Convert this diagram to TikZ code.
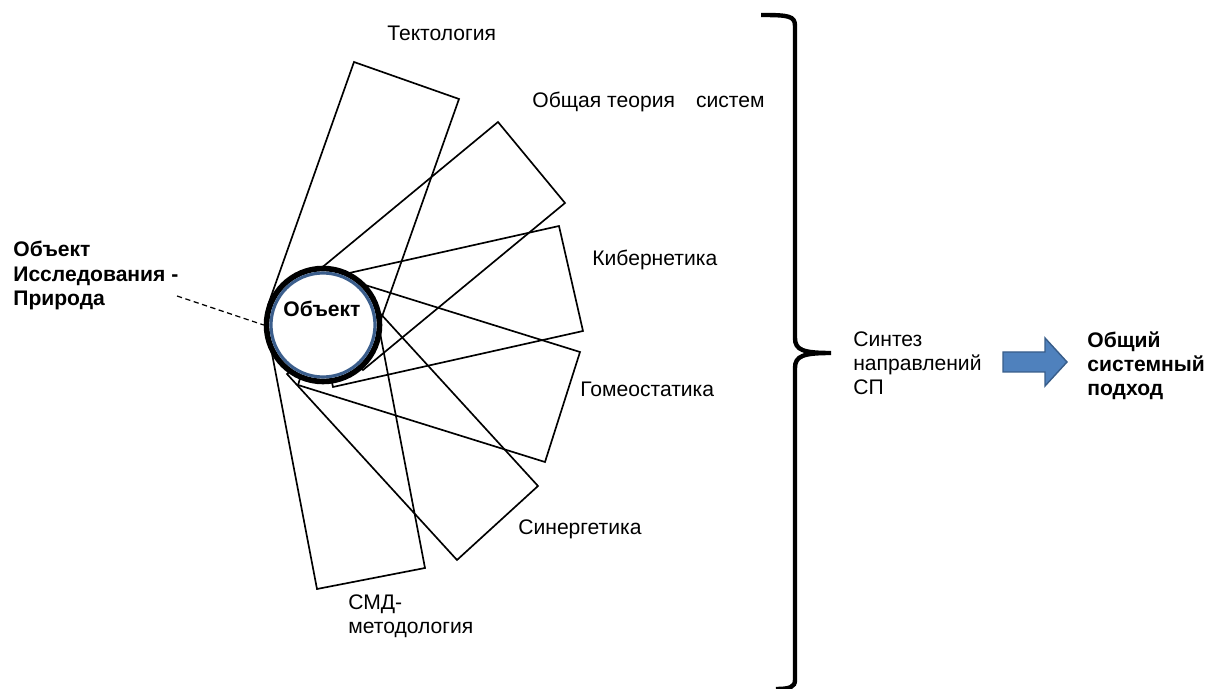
\documentclass[tikz,border=0pt]{standalone}
\usepackage{fontspec}
\setmainfont{Liberation Sans}
\usetikzlibrary{calc}
\definecolor{ringblue}{RGB}{59,94,140}
\definecolor{arrowblue}{RGB}{79,129,189}
\definecolor{arrowedge}{RGB}{56,93,138}

\begin{document}
\begin{tikzpicture}[x=0.02cm, y=-0.02cm,
    lbl/.style={inner sep=0pt, font=\fontsize{12}{13.8}\selectfont},
    blbl/.style={inner sep=0pt, font=\fontsize{12}{13.8}\selectfont\bfseries},
    blade/.style={line width=0.95pt, line join=miter},
    bracket/.style={line width=2.5pt}]
  \useasboundingbox (0,0) rectangle (1208,689);

  % the six directions, drawn as turned boxes
  \draw[blade] (354,62) -- (459,99) -- (373,342) -- (268,305) -- cycle;
  \draw[blade] (498,122) -- (565,203) -- (363,370) -- (296,289) -- cycle;
  \draw[blade] (559,226) -- (583,331) -- (333,387) -- (309,282) -- cycle;
  \draw[blade] (580,352) -- (545,462) -- (298,385) -- (333,275) -- cycle;
  \draw[blade] (538,486) -- (457,560) -- (287,374) -- (368,300) -- cycle;
  \draw[blade] (425,568) -- (317,589) -- (269,338) -- (377,317) -- cycle;

  % object
  \node[circle, draw, fill=white, line width=3.2pt, inner sep=0pt, minimum size=2.26cm] (obj) at (323,325) {};
  \draw[ringblue, line width=1.8pt] (obj.center) circle[radius=52];
  \node[blbl, anchor=base] (objtxt) at (322,317) {Объект};

  \node[blbl, anchor=north west, align=left] (nature) at (13,241) {Объект\\Исследования -\\Природа};
  \coordinate (dashstart) at (177,296);
  \draw[dashed, line width=0.7pt, dash pattern=on 3pt off 2pt] (dashstart) -- (obj.west);

  % labels of the boxes
  \node[lbl, anchor=base west] (tekt) at (387,41) {Тектология};
  \node[lbl, anchor=base west] (ots) at (532,108) {Общая теория\hspace{12pt}систем};
  \node[lbl, anchor=base west] (kib) at (592,266) {Кибернетика};
  \node[lbl, anchor=base west] (gomeo) at (580,397) {Гомеостатика};
  \node[lbl, anchor=base west] (sinerg) at (518,534) {Синергетика};
  \node[lbl, anchor=north west, align=left] (smd) at (348,594) {СМД-\\методология};

  % brace
  \draw[bracket] (761,15) .. controls (789,15) and (795,16) .. (795,26) -- (795,338)
    .. controls (795,350) and (803,353) .. (831,353)
    .. controls (803,353) and (795,356) .. (795,368) -- (795,680)
    .. controls (795,687) and (790,689) .. (776,689);

  \node[lbl, anchor=north west, align=left] (synth) at (853,331) {Синтез\\направлений\\СП};
  \node[blbl, anchor=north west, align=left] (result) at (1087,331) {Общий\\системный\\подход};

  % block arrow
  \coordinate (arrtail) at (1003,362);
  \draw[fill=arrowblue, draw=arrowedge, line width=0.8pt] (arrtail) -- ++(0,-10) -- ++(42,0) -- ++(0,-14)
    -- ++(22,24) -- ++(-22,24) -- ++(0,-14) -- ++(-42,0) -- cycle;
\end{tikzpicture}
\end{document}
